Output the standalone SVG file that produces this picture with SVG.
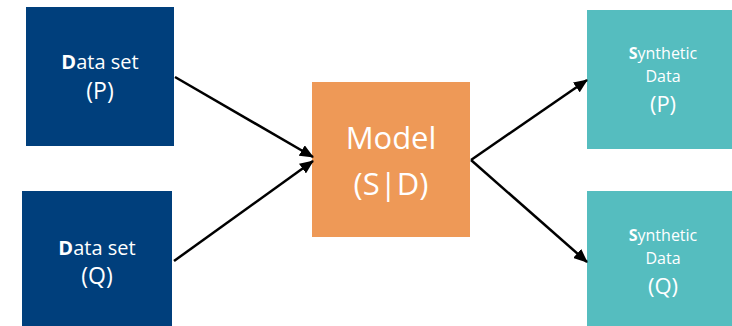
<svg xmlns="http://www.w3.org/2000/svg" width="732" height="326" viewBox="0 0 732 326">
<defs>
<marker id="ah" viewBox="0 0 14 12" refX="13" refY="6" markerWidth="14" markerHeight="12" markerUnits="userSpaceOnUse" orient="auto">
<path d="M0,0 L14,6 L0,12 z" fill="#000"/>
</marker>
<style>
.t{font-family:"Open Sans","Liberation Sans",sans-serif;fill:#fff;text-anchor:middle}
.ds{fill:#003F7C}
.md{fill:#EE9957}
.sy{fill:#55BDBF}
.c{stroke:#000;stroke-width:2.5;fill:none}
</style>
</defs>
<rect width="732" height="326" fill="#fff"/>
<g id="dataP">
<rect class="ds" x="26" y="7" width="148" height="139"/>
<text class="t" x="100" y="69" font-size="20"><tspan font-weight="bold">D</tspan>ata set</text>
<text class="t" x="100" y="99" font-size="23">(P)</text>
</g>
<g id="dataQ">
<rect class="ds" x="22" y="191" width="150" height="135"/>
<text class="t" x="97" y="255" font-size="20"><tspan font-weight="bold">D</tspan>ata set</text>
<text class="t" x="97" y="284" font-size="23">(Q)</text>
</g>
<g id="model">
<rect class="md" x="312" y="82" width="158" height="155"/>
<text class="t" x="391" y="149" font-size="31">Model</text>
<text class="t" x="391" y="195" font-size="31">(S|D)</text>
</g>
<g id="synP">
<rect class="sy" x="587" y="10" width="145" height="139"/>
<text class="t" x="663" y="59" font-size="16"><tspan font-weight="bold">S</tspan>ynthetic</text>
<text class="t" x="663" y="82" font-size="16">Data</text>
<text class="t" x="663" y="112" font-size="22">(P)</text>
</g>
<g id="synQ">
<rect class="sy" x="587" y="191" width="145" height="135"/>
<text class="t" x="663" y="241" font-size="16"><tspan font-weight="bold">S</tspan>ynthetic</text>
<text class="t" x="663" y="264" font-size="16">Data</text>
<text class="t" x="663" y="294" font-size="22">(Q)</text>
</g>
<g id="connectors">
<line class="c" x1="175" y1="77" x2="313" y2="157" marker-end="url(#ah)"/>
<line class="c" x1="174" y1="261" x2="313" y2="161" marker-end="url(#ah)"/>
<line class="c" x1="471" y1="160" x2="587" y2="80" marker-end="url(#ah)"/>
<line class="c" x1="471" y1="160" x2="587" y2="262" marker-end="url(#ah)"/>
</g>
</svg>
